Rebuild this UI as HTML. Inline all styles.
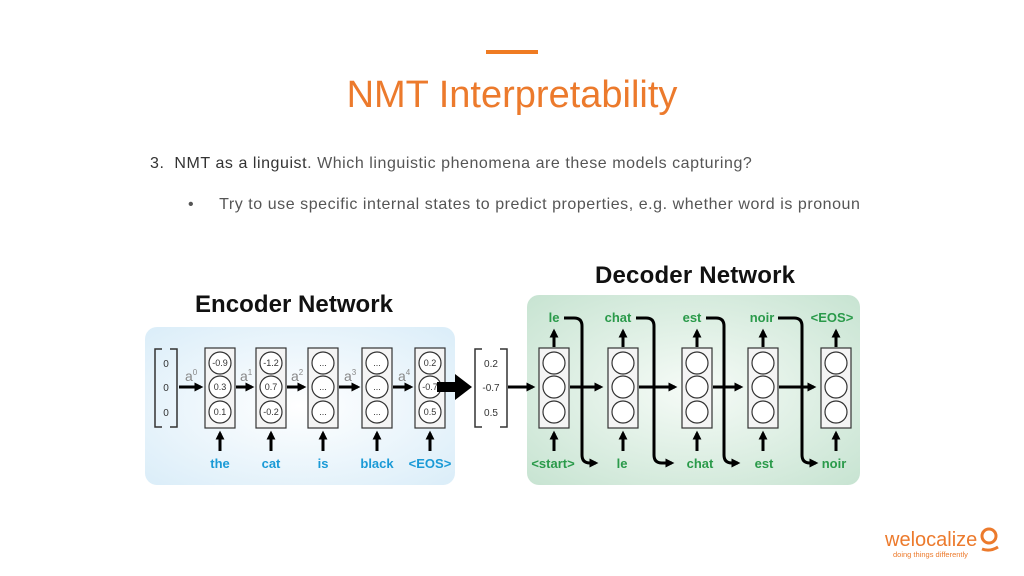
<!DOCTYPE html>
<html><head><meta charset="utf-8"><style>
body{margin:0;width:1024px;height:576px;background:#fff;overflow:hidden;font-family:"Liberation Sans",sans-serif;position:relative}
.t{position:absolute;white-space:nowrap}
</style></head><body>
<div style="position:absolute;left:486px;top:50px;width:52px;height:4px;background:#ef7b22"></div>
<div class="t" style="left:0;width:1024px;text-align:center;top:74px;font-size:38px;color:#ec7a2c">NMT Interpretability</div>
<div class="t" style="left:150px;top:155px;font-size:16px;letter-spacing:0.55px;color:#555"><span style="color:#333">3.&nbsp; NMT as a linguist</span>. Which linguistic phenomena are these models capturing?</div>
<div class="t" style="left:188px;top:196px;font-size:16px;letter-spacing:0.55px;color:#555">•&nbsp;&nbsp;&nbsp;&nbsp;&nbsp;Try to use specific internal states to predict properties, e.g. whether word is pronoun</div>
<svg width="1024" height="576" style="position:absolute;left:0;top:0" font-family="Liberation Sans, sans-serif">
<defs>
<radialGradient id="gb" cx="0.5" cy="0.5" r="0.75"><stop offset="0" stop-color="#ffffff"/><stop offset="1" stop-color="#d8ecf8"/></radialGradient>
<radialGradient id="gg" cx="0.5" cy="0.5" r="0.75"><stop offset="0" stop-color="#f6fbf7"/><stop offset="1" stop-color="#c4e2cf"/></radialGradient>
<marker id="ah" markerWidth="3" markerHeight="3" refX="2.2" refY="1.5" orient="auto" markerUnits="strokeWidth"><path d="M0,0 L3,1.5 L0,3z" fill="#000"/></marker>
</defs>
<rect x="145" y="327" width="310" height="158" rx="12" fill="url(#gb)"/>
<rect x="527" y="295" width="333" height="190" rx="12" fill="url(#gg)"/>
<text x="195" y="312" font-size="24" font-weight="bold" fill="#111" textLength="198">Encoder Network</text>
<text x="595" y="283" font-size="24" font-weight="bold" fill="#111" textLength="200">Decoder Network</text>
<g stroke="#333" stroke-width="1.5" fill="none">
<path d="M162,349 h-7 v78 h7 M170,349 h7 v78 h-7"/>
<path d="M482,349 h-7 v78 h7 M500,349 h7 v78 h-7"/>
</g>
<g font-size="10" fill="#333" text-anchor="middle">
<text x="166" y="367">0</text><text x="166" y="391">0</text><text x="166" y="416">0</text>
<text x="491" y="367">0.2</text><text x="491" y="391">-0.7</text><text x="491" y="416">0.5</text>
</g>
<g fill="#f4f4f4" stroke="#333" stroke-width="1.2">
<rect x="205" y="348" width="30" height="80"/><rect x="256" y="348" width="30" height="80"/><rect x="308" y="348" width="30" height="80"/><rect x="362" y="348" width="30" height="80"/><rect x="415" y="348" width="30" height="80"/>
<rect x="539" y="348" width="30" height="80"/><rect x="608" y="348" width="30" height="80"/><rect x="682" y="348" width="30" height="80"/><rect x="748" y="348" width="30" height="80"/><rect x="821" y="348" width="30" height="80"/>
</g>
<g fill="#fff" stroke="#333" stroke-width="1.2">
<g id="c"><circle cx="220" cy="363" r="11"/><circle cx="220" cy="387" r="11"/><circle cx="220" cy="412" r="11"/></g>
<use href="#c" x="51"/><use href="#c" x="103"/><use href="#c" x="157"/><use href="#c" x="210"/>
<use href="#c" x="334"/><use href="#c" x="403"/><use href="#c" x="477"/><use href="#c" x="543"/><use href="#c" x="616"/>
</g>
<g font-size="9" fill="#333" text-anchor="middle">
<text x="220" y="366">-0.9</text><text x="220" y="390">0.3</text><text x="220" y="415">0.1</text>
<text x="271" y="366">-1.2</text><text x="271" y="390">0.7</text><text x="271" y="415">-0.2</text>
<text x="323" y="366">...</text><text x="323" y="390">...</text><text x="323" y="415">...</text>
<text x="377" y="366">...</text><text x="377" y="390">...</text><text x="377" y="415">...</text>
<text x="430" y="366">0.2</text><text x="430" y="390">-0.7</text><text x="430" y="415">0.5</text>
</g>
<g font-size="14" fill="#888">
<text x="185" y="381">a<tspan font-size="8" dy="-6">0</tspan></text>
<text x="240" y="381">a<tspan font-size="8" dy="-6">1</tspan></text>
<text x="291" y="381">a<tspan font-size="8" dy="-6">2</tspan></text>
<text x="344" y="381">a<tspan font-size="8" dy="-6">3</tspan></text>
<text x="398" y="381">a<tspan font-size="8" dy="-6">4</tspan></text>
</g>
<g stroke="#000" stroke-width="3" fill="none" marker-end="url(#ah)">
<line x1="179" y1="387" x2="201" y2="387"/><line x1="236" y1="387" x2="252" y2="387"/><line x1="287" y1="387" x2="304" y2="387"/><line x1="339" y1="387" x2="358" y2="387"/><line x1="393" y1="387" x2="411" y2="387"/>
<line x1="220" y1="451" x2="220" y2="433"/><line x1="271" y1="451" x2="271" y2="433"/><line x1="323" y1="451" x2="323" y2="433"/><line x1="377" y1="451" x2="377" y2="433"/><line x1="430" y1="451" x2="430" y2="433"/>
<line x1="554" y1="451" x2="554" y2="433"/><line x1="623" y1="451" x2="623" y2="433"/><line x1="697" y1="451" x2="697" y2="433"/><line x1="763" y1="451" x2="763" y2="433"/><line x1="836" y1="451" x2="836" y2="433"/>
<line x1="554" y1="347" x2="554" y2="331"/><line x1="623" y1="347" x2="623" y2="331"/><line x1="697" y1="347" x2="697" y2="331"/><line x1="763" y1="347" x2="763" y2="331"/><line x1="836" y1="347" x2="836" y2="331"/>
<line x1="570" y1="387" x2="601" y2="387"/><line x1="639" y1="387" x2="675" y2="387"/><line x1="713" y1="387" x2="741" y2="387"/><line x1="779" y1="387" x2="814" y2="387"/>
<line x1="508" y1="387" x2="533" y2="387"/>
<path d="M564,318 h10 q8,0 8,8 v129 q0,8 8,8 h6"/>
<path d="M636,318 h10 q8,0 8,8 v129 q0,8 8,8 h10"/>
<path d="M706,318 h10 q8,0 8,8 v129 q0,8 8,8 h6"/>
<path d="M778,318 h16 q8,0 8,8 v129 q0,8 8,8 h6"/>
</g>
<path d="M437,382 h18 v-8 l17,13 l-17,13 v-8 h-18z" fill="#000"/>
<g font-size="13" font-weight="bold" fill="#1a9ad6" text-anchor="middle">
<text x="220" y="468">the</text><text x="271" y="468">cat</text><text x="323" y="468">is</text><text x="377" y="468">black</text><text x="430" y="468">&lt;EOS&gt;</text>
</g>
<g font-size="13" fill="#2a9a4a" text-anchor="middle" font-weight="bold">
<text x="554" y="322">le</text><text x="618" y="322">chat</text><text x="692" y="322">est</text><text x="762" y="322">noir</text><text x="832" y="322">&lt;EOS&gt;</text>
<text x="553" y="468">&lt;start&gt;</text><text x="622" y="468">le</text><text x="700" y="468">chat</text><text x="764" y="468">est</text><text x="834" y="468">noir</text>
</g>
<text x="885" y="546" font-size="20" fill="#ec7a2c">welocalize</text>
<circle cx="989" cy="536" r="7" fill="none" stroke="#ec7a2c" stroke-width="3"/>
<path d="M982,549 q8,3 16,-2" stroke="#ec7a2c" stroke-width="3" fill="none"/>
<text x="893" y="557" font-size="7.5" fill="#ec7a2c">doing things differently</text>
</svg>
</body></html>
